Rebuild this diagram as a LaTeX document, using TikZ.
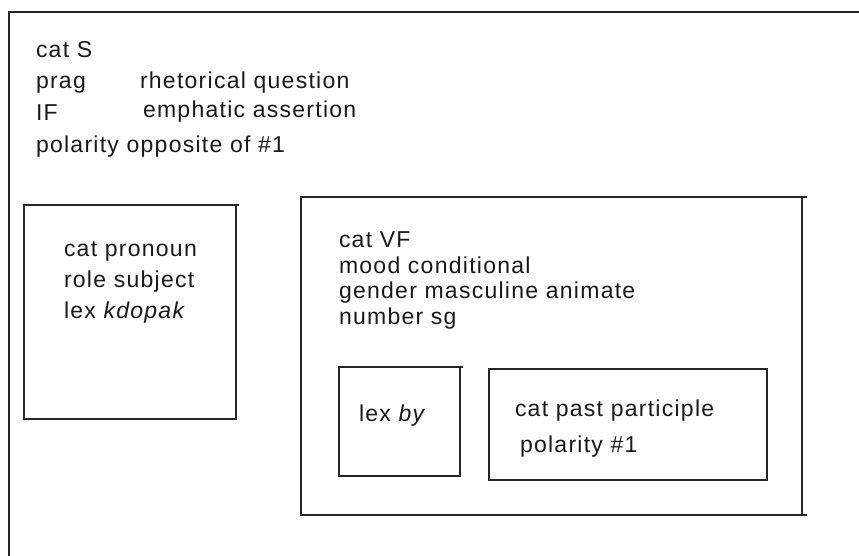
\documentclass[tikz,border=0pt]{standalone}
\usepackage{fontspec}
\setmainfont{Liberation Sans}[LetterSpace=5.5]
\begin{document}
\begin{tikzpicture}[x=1pt,y=-1pt,
  frame/.style={draw=black!85,line width=1.7pt},
  txt/.style={anchor=base west,inner sep=0pt,outer sep=0pt,text=black!90,font=\fontsize{23}{26}\selectfont}]
\useasboundingbox[fill=white] (0,0) rectangle (859,556);

% outer structure (S): only its top and left edges fall inside the page
\draw[frame] (870,12) -- (9,12) -- (9,570);
\node[txt] (catS)  at (36,58)  {cat S};
\node[txt] (prag)  at (36,89)  {prag};
\node[txt] (pragv) at (140,89) {rhetorical question};
\node[txt] (IF)    at (36,121) {IF};
\node[txt] (IFv)   at (143,118){emphatic assertion};
\node[txt] (polS)  at (36,153) {polarity opposite of \#1};

% subject pronoun
\draw[frame] (24,205) rectangle (236,419);
\draw[frame] (236,205) -- (239,205);
\node[txt] (catP)  at (64,256) {cat pronoun};
\node[txt] (roleP) at (64,287) {role subject};
\node[txt] (lexP)  at (64,318) {lex \textit{kdopak}};

% verb form
\draw[frame] (301,197) rectangle (802,515);
\draw[frame] (802,197) -- (807,197);
\draw[frame] (802,515) -- (807,515);
\node[txt] (catVF)  at (339,247) {cat VF};
\node[txt] (moodVF) at (339,273) {mood conditional};
\node[txt] (gendVF) at (339,298) {gender masculine animate};
\node[txt] (numVF)  at (339,324) {number sg};

% auxiliary
\draw[frame] (339,367) rectangle (460,476);
\draw[frame] (460,367) -- (463,367);
\node[txt] (lexby) at (359,421) {lex \textit{by}};

% past participle
\draw[frame] (489,369) rectangle (767,480);
\node[txt] (catPP) at (515,416) {cat past participle};
\node[txt] (polPP) at (520,452) {polarity \#1};
\end{tikzpicture}
\end{document}
